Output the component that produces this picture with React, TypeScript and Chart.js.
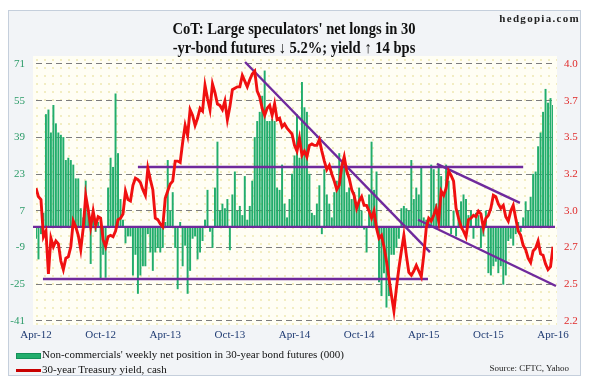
import React, { useEffect, useRef } from "react";
import { Chart, registerables } from "chart.js";

Chart.register(...registerables);

// ---- data ----
const xLabels = ["Apr-12", "Oct-12", "Apr-13", "Oct-13", "Apr-14", "Oct-14", "Apr-15", "Oct-15", "Apr-16"];
const weeksPerLabel = 26;

// Non-commercials' weekly net position in 30-year bond futures (000), weekly Apr-12 .. Apr-16
const netPositions = [
  -5, -14, -3, 6, 49, 51, 41, 53, 45, 41,
  40, 39, 29, 30, 29, 27, 21, 21, 8, 4,
  20, 6, -16, 3, -2, 2, -23, -12, -22, 17,
  30, 26, 58, 32, 12, 3, -7, -4, -4, -21,
  -12, -29, -21, -17, -17, -3, -11, -19, -11, -9,
  -11, -9, 2, 29, 7, 15, -9, -27, 2, -17,
  -8, -29, -19, -5, -4, -14, -11, -6, 3, 16,
  -2, -9, 17, 37, 7, 10, 8, 12, -10, 14,
  24, 7, 9, 5, 22, 3, 9, 20, 39, 46,
  50, 57, 68, 46, 46, 47, 46, 17, 16, 27,
  10, 4, 12, 23, 31, 49, 30, 63, 52, 50,
  23, 6, 5, 10, 18, -3, 25, 14, 10, 4,
  15, 20, 32, 25, 28, 15, 17, 12, 15, 8,
  17, 7, -1, -11, 14, 37, 16, 24, -24, -30,
  -20, -35, -30, -12, -12, -9, -5, 8, 9, 8,
  7, 29, 12, 17, 14, 26, 4, 3, 2, 27,
  25, 10, 27, 22, 14, 27, 20, -3, 7, -4,
  7, 11, 14, 12, 5, 7, -5, 6, 5, -9,
  -4, 7, -20, -21, -17, -15, -20, -17, -25, -21,
  -6, -5, -8, -3, 2, -2, 4, 11, 7, 13,
  23, 24, 35, 41, 50, 60, 54, 56, 53,
];

// 30-year Treasury yield, cash (%)
const yields = [
  3.13, 3.07, 3.05, 2.79, 2.83, 2.53, 2.78, 2.72, 2.76, 2.74,
  2.62, 2.56, 2.64, 2.65, 2.72, 2.90, 2.86, 2.80, 2.70, 2.85,
  3.08, 2.98, 2.86, 2.97, 2.87, 2.93, 2.92, 2.77, 2.72, 2.79,
  2.80, 2.79, 2.83, 2.91, 2.92, 2.95, 3.11, 3.05, 3.04, 3.15,
  3.20, 3.19, 3.17, 3.12, 3.08, 3.27, 3.19, 3.12, 2.92, 2.91,
  2.88, 2.86, 3.06, 3.11, 3.16, 3.18, 3.32, 3.32, 3.31, 3.45,
  3.57, 3.50, 3.68, 3.64, 3.57, 3.62, 3.69, 3.67, 3.85, 3.76,
  3.68, 3.86, 3.80, 3.72, 3.71, 3.68, 3.74, 3.61, 3.70, 3.82,
  3.83, 3.84, 3.84, 3.92, 3.88, 3.84, 3.89, 3.93, 3.95, 3.81,
  3.77, 3.69, 3.64, 3.69, 3.71, 3.64, 3.72, 3.61, 3.62, 3.56,
  3.58, 3.55, 3.53, 3.51, 3.43, 3.39, 3.48, 3.36, 3.39, 3.35,
  3.43, 3.44, 3.43, 3.43, 3.47, 3.39, 3.32, 3.26, 3.29, 3.23,
  3.18, 3.12, 3.15, 3.28, 3.35, 3.25, 3.20, 3.12, 3.08, 2.99,
  3.04, 3.07, 3.01, 3.01, 2.97, 2.92, 2.97, 2.85, 2.78, 2.80,
  2.72, 2.62, 2.50, 2.38, 2.27, 2.43, 2.57, 2.69, 2.80, 2.66,
  2.54, 2.52, 2.55, 2.59, 2.55, 2.51, 2.66, 2.85, 2.92, 2.90,
  2.94, 2.99, 2.90, 3.11, 3.08, 3.13, 3.25, 3.22, 3.18, 2.99,
  2.92, 2.86, 2.83, 2.79, 2.91, 2.92, 2.94, 2.93, 2.97, 2.95,
  2.85, 2.92, 2.94, 2.99, 3.08, 3.07, 3.02, 2.99, 3.01, 2.93,
  2.90, 2.97, 3.01, 2.92, 2.83, 2.80, 2.73, 2.70, 2.64, 2.61,
  2.69, 2.71, 2.76, 2.67, 2.66, 2.60, 2.56, 2.58, 2.72,
];

// Left axis (net position) and right axis (yield) ranges
const leftAxis = [-41, 71, 16]; // min, max, step
const rightAxis = [2.2, 4.0, 7]; // min, max, intervals

// Trend lines: [week index, value]; "L" on the position axis, "R" on the yield axis
const trendUpperFlatL = [[41, 26.1], [196, 26.1]];
const trendZeroL = [[-1.2, 0], [208.8, 0]];
const trendLowerFlatL = [[2.8, -22.7], [157.7, -22.7]];
const trendDownMainR = [[84.1, 4.014], [158.5, 2.683]];
const trendDownUpperR = [[161.3, 3.3], [194.7, 3.027]];
const trendDownLowerR = [[153.7, 2.909], [209.2, 2.445]];

const SERIF = '"Liberation Serif", "Times New Roman", Times, serif';
const PURPLE = "#6f2a9c";

function trend(points: number[][], axis: string) {
  return {
    type: "line" as const,
    data: points.map(([x, y]) => ({ x, y })),
    yAxisID: axis,
    borderColor: PURPLE,
    borderWidth: 2.4,
    pointRadius: 0,
    clip: false as any,
    order: 1,
  };
}

export default function App() {
  const ref = useRef<HTMLCanvasElement>(null);

  useEffect(() => {
    Chart.defaults.font.family = SERIF;
    const chart = new Chart(ref.current!, {
      type: "bar",
      data: {
        datasets: [
          {
            type: "line",
            data: yields.map((y, i) => ({ x: i, y })),
            yAxisID: "y1",
            borderColor: "#f01010",
            borderWidth: 2.9,
            pointRadius: 0,
            tension: 0,
            order: 0,
          } as any,
          trend(trendUpperFlatL, "y"),
          trend(trendZeroL, "y"),
          trend(trendLowerFlatL, "y"),
          trend(trendDownMainR, "y1"),
          trend(trendDownUpperR, "y1"),
          trend(trendDownLowerR, "y1"),
          {
            type: "bar",
            data: netPositions.map((v, i) => ({ x: i, y: v })),
            yAxisID: "y",
            backgroundColor: "#22ad6c",
            barThickness: 1.3,
            order: 2,
          } as any,
        ],
      },
      options: {
        responsive: false,
        animation: false,
        layout: { padding: { top: 64, left: 0, right: 0, bottom: 0 } },
        plugins: {
          legend: { display: false },
          tooltip: { enabled: false },
          title: { display: false },
        },
        scales: {
          x: {
            type: "linear",
            min: 0,
            max: (xLabels.length - 1) * weeksPerLabel,
            offset: false,
            grid: { display: false, drawTicks: false },
            border: { display: false },
            ticks: {
              stepSize: weeksPerLabel,
              autoSkip: false,
              maxRotation: 0,
              padding: 8,
              color: "#1f3b73",
              font: { size: 11, family: SERIF },
              callback: (v: any) => xLabels[Math.round(Number(v) / weeksPerLabel)] ?? "",
            },
            afterFit: (s: any) => {
              s.height = 62;
            },
          },
          y: {
            position: "left",
            min: leftAxis[0],
            max: leftAxis[1],
            grid: { color: "#7d7d7d", lineWidth: 1.1, drawTicks: false },
            border: { display: false, dash: [6, 4] },
            ticks: {
              stepSize: leftAxis[2],
              padding: 11,
              color: "#2b9b68",
              font: { size: 11, family: SERIF },
            },
            afterFit: (s: any) => {
              s.width = 36;
            },
          },
          y1: {
            position: "right",
            min: rightAxis[0],
            max: rightAxis[1],
            grid: { display: false, drawTicks: false },
            border: { display: false },
            ticks: {
              stepSize: (rightAxis[1] - rightAxis[0]) / rightAxis[2],
              padding: 11,
              color: "#e02a2a",
              font: { size: 11, family: SERIF },
              callback: (v: any) => Number(v).toFixed(1),
            },
            afterFit: (s: any) => {
              s.width = 38;
            },
          },
        } as any,
      },
    });
    return () => chart.destroy();
  }, []);

  const abs: React.CSSProperties = { position: "absolute" };

  return (
    <div
      style={{
        position: "fixed",
        left: 0,
        top: 0,
        width: 591,
        height: 383,
        background: "#ffffff",
        fontFamily: SERIF,
        overflow: "hidden",
      }}
    >
      <div
        style={{
          ...abs,
          left: 8,
          top: 10,
          width: 573,
          height: 366,
          boxSizing: "border-box",
          border: "1px solid #c5cfdc",
          background: "#f2f4f7",
        }}
      />
      <div
        style={{
          ...abs,
          left: 33,
          top: 56,
          width: 524,
          height: 269,
          background:
            "radial-gradient(circle, #eee7b0 0.6px, rgba(0,0,0,0) 1px) 0 0 / 8px 8px, #fffef4",
        }}
      />
      <canvas ref={ref} width={591} height={383} style={{ ...abs, left: 0, top: 0, width: 591, height: 383 }} />
      <div
        style={{
          ...abs,
          left: 94,
          top: 19,
          width: 400,
          textAlign: "center",
          fontWeight: "bold",
          fontSize: 16,
          lineHeight: "19px",
          color: "#111",
          transform: "scaleX(0.91)",
          whiteSpace: "nowrap",
        }}
      >
        <div>CoT: Large speculators' net longs in 30</div>
        <div>-yr-bond futures ↓ 5.2%; yield ↑ 14 bps</div>
      </div>
      <div
        style={{
          ...abs,
          right: 11,
          top: 12,
          fontWeight: "bold",
          fontSize: 11,
          letterSpacing: 1.3,
          color: "#222",
        }}
      >
        hedgopia.com
      </div>
      <div style={{ ...abs, left: 16, top: 353, width: 25, height: 6, background: "#22ad6c", boxSizing: "border-box", border: "1px solid #139058" }} />
      <div style={{ ...abs, left: 42, top: 348, fontSize: 11, color: "#111", whiteSpace: "nowrap" }}>
        Non-commercials' weekly net position in 30-year bond futures (000)
      </div>
      <div style={{ ...abs, left: 16, top: 369, width: 25, height: 3, background: "#c80000" }} />
      <div style={{ ...abs, left: 42, top: 363, fontSize: 11, color: "#111", whiteSpace: "nowrap" }}>
        30-year Treasury yield, cash
      </div>
      <div style={{ ...abs, right: 22, top: 363, fontSize: 9, color: "#222", whiteSpace: "nowrap" }}>
        Source: CFTC, Yahoo
      </div>
    </div>
  );
}
